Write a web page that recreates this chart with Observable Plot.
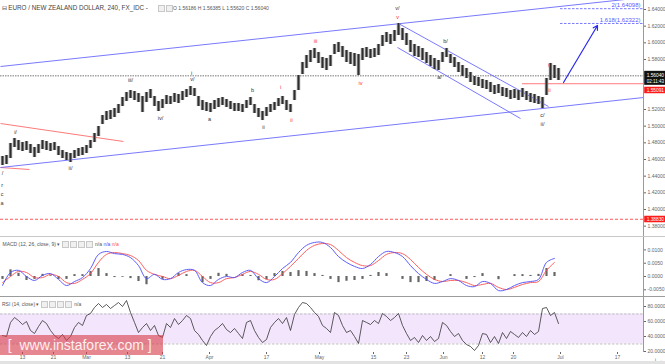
<!DOCTYPE html>
<html><head><meta charset="utf-8">
<script src="https://cdn.jsdelivr.net/npm/d3@7"></script>
<script src="https://cdn.jsdelivr.net/npm/@observablehq/plot@0.6"></script>
<style>
body{margin:0;background:#fff;}
#wrap{position:relative;width:665px;height:364px;overflow:hidden;font-family:"Liberation Sans",Arial,sans-serif;background:#fff;}
.pane{position:absolute;left:0;}
.lbl{position:absolute;white-space:nowrap;color:#444;}
.ic{display:inline-block;width:5px;height:5px;border:0.5px solid #c8c8c8;background:#f0f0f0;margin-right:1px;vertical-align:middle;}
.sep{position:absolute;left:0;width:665px;}
</style></head><body><div id="wrap"></div>
<script>
// ---------- DATA ----------
const priceHigh = [1.4636,1.4648,1.4792,1.4852,1.4828,1.4804,1.4816,1.4780,1.4744,1.4780,1.4828,1.4816,1.4792,1.4804,1.4756,1.4708,1.4684,1.4672,1.4708,1.4732,1.4744,1.4768,1.4828,1.4912,1.4996,1.5128,1.5176,1.5188,1.5212,1.5260,1.5344,1.5404,1.5428,1.5416,1.5392,1.5356,1.5404,1.5440,1.5356,1.5296,1.5320,1.5368,1.5356,1.5392,1.5380,1.5416,1.5440,1.5476,1.5452,1.5356,1.5308,1.5284,1.5272,1.5308,1.5332,1.5344,1.5320,1.5296,1.5272,1.5272,1.5260,1.5308,1.5344,1.5260,1.5212,1.5176,1.5224,1.5260,1.5284,1.5332,1.5356,1.5308,1.5260,1.5428,1.5608,1.5764,1.5848,1.5908,1.5932,1.5884,1.5824,1.5812,1.5848,1.5980,1.6004,1.5956,1.5908,1.5884,1.5872,1.5860,1.5932,1.5944,1.5920,1.5932,1.5980,1.6088,1.6124,1.6100,1.6148,1.6232,1.6172,1.6112,1.6028,1.5980,1.5956,1.5932,1.5884,1.5848,1.5812,1.5788,1.5884,1.5932,1.5860,1.5824,1.5764,1.5728,1.5692,1.5644,1.5596,1.5584,1.5560,1.5548,1.5524,1.5488,1.5500,1.5464,1.5452,1.5428,1.5440,1.5428,1.5452,1.5416,1.5392,1.5380,1.5356,1.5344,1.5572,1.5752,1.5728,1.5692];
const priceLow = [1.4528,1.4540,1.4612,1.4744,1.4708,1.4696,1.4708,1.4672,1.4624,1.4672,1.4720,1.4708,1.4696,1.4708,1.4648,1.4612,1.4588,1.4564,1.4612,1.4636,1.4648,1.4672,1.4732,1.4804,1.4876,1.5020,1.5068,1.5080,1.5104,1.5152,1.5236,1.5296,1.5332,1.5308,1.5284,1.5164,1.5284,1.5332,1.5236,1.5176,1.5212,1.5260,1.5260,1.5284,1.5272,1.5308,1.5344,1.5368,1.5356,1.5236,1.5188,1.5176,1.5164,1.5200,1.5224,1.5248,1.5224,1.5200,1.5176,1.5176,1.5164,1.5212,1.5248,1.5152,1.5104,1.5068,1.5116,1.5164,1.5188,1.5236,1.5260,1.5188,1.5164,1.5308,1.5428,1.5620,1.5692,1.5764,1.5812,1.5752,1.5692,1.5668,1.5716,1.5860,1.5884,1.5824,1.5764,1.5740,1.5716,1.5608,1.5788,1.5824,1.5812,1.5824,1.5848,1.5956,1.6004,1.5980,1.6016,1.6088,1.6028,1.5968,1.5884,1.5836,1.5824,1.5788,1.5752,1.5716,1.5680,1.5668,1.5764,1.5824,1.5752,1.5704,1.5644,1.5596,1.5572,1.5524,1.5488,1.5476,1.5452,1.5440,1.5404,1.5380,1.5392,1.5356,1.5344,1.5320,1.5332,1.5308,1.5344,1.5308,1.5284,1.5272,1.5260,1.5212,1.5368,1.5548,1.5572,1.5548];

const macdLine = [-0.0034,0.0015,0.0023,0,-0.0015,0.0004,0.0011,-0.0011,-0.0034,-0.0019,-0.0004,0.003,0.0083,0.0094,0.0086,0.0083,0.0071,0.0041,-0.0008,0.0008,-0.0011,-0.0008,0.0015,0.0026,0.0023,-0.0023,-0.0034,-0.0011,0,-0.0004,0.0015,0.0023,-0.0008,-0.0023,0,0.003,0.0053,0.009,0.0117,0.0128,0.0128,0.0109,0.0075,0.0053,0.0038,0.003,0.0045,0.0075,0.0094,0.009,0.0075,0.0041,0.0011,-0.0011,-0.0026,-0.0019,-0.0008,-0.0015,-0.0034,-0.0038,-0.0019,-0.0026,-0.0053,-0.0049,-0.0034,-0.0023,-0.0019,-0.0011,0.0053,0.0068];
const signalLine = [-0.0023,0,0.0019,0.0015,-0.0004,-0.0004,0.0008,0,-0.0023,-0.0026,-0.0011,0.0011,0.0053,0.0083,0.009,0.0086,0.0079,0.006,0.0023,0.0008,0,-0.0008,0.0004,0.0019,0.0023,0,-0.0023,-0.0023,-0.0008,-0.0004,0.0008,0.0019,0.0008,-0.0011,-0.0011,0.0011,0.0038,0.0068,0.0098,0.0117,0.0124,0.012,0.0098,0.0071,0.0053,0.0041,0.0041,0.006,0.0083,0.009,0.0086,0.0064,0.0034,0.0008,-0.0011,-0.0019,-0.0015,-0.0015,-0.0023,-0.0034,-0.003,-0.0026,-0.0041,-0.0049,-0.0041,-0.003,-0.0023,-0.0019,0.0023,0.0053];
const macdHist = [-0.0011,0.0025,0.0012,-0.0015,-0.0011,0.0008,0.0003,-0.0011,-0.0011,0.0007,0.0007,0.0019,0.003,0.0011,-0.0004,-0.0003,-0.0008,-0.0019,-0.0031,0,-0.0011,0,0.0011,0.0007,0,-0.0023,-0.0011,0.0012,0.0008,0,0.0007,0.0004,-0.0016,-0.0012,0.0011,0.0019,0.0015,0.0022,0.0019,0.0011,0.0004,-0.0011,-0.0023,-0.0018,-0.0015,-0.0011,0.0004,0.0015,0.0011,0,-0.0011,-0.0023,-0.0023,-0.0019,-0.0015,0,0.0007,0,-0.0011,-0.0004,0.0011,0,-0.0012,0,0.0007,0.0007,0.0004,0.0008,0.003,0.0015];

const rsiValues = [41.3,40,58.7,65.3,61.3,56,60,48,44,53.3,61.3,57.3,48,41.3,37.3,42.7,34.7,40,52,58.7,54.7,68,70.7,78.7,84,78.7,82.7,77.3,81.3,85.3,80,88,72,58.7,45.3,52,57.3,48,54.7,41.3,38.7,57.3,52,64,56,61.3,68,64,48,42.7,34.7,28,40,48,52,57.3,49.3,45.3,50.7,44,37.3,58.7,61.3,48,38.7,32,36,52,58.7,64,57.3,65.3,48,69.3,78.7,85.3,84,78.7,72,66.7,54.7,50.7,45.3,72,68,54.7,45.3,48,40,30.7,61.3,58.7,56,61.3,57.3,70.7,66.7,61.3,65.3,70.7,54.7,44,34.7,38.7,32,41.3,34.7,40,33.3,37.3,58.7,54.7,46.7,40,44,34.7,29.3,26.7,21.3,28,44,42.7,32,40,30.7,45.3,37.3,46.7,42.7,38.7,45.3,40,48,42.7,46.7,77.3,78.7,68,72,57.3];

// 1.54000 and 1.56000 are covered by the price boxes in the reference, so they are not listed
const priceTicks = [1.38,1.40,1.42,1.44,1.46,1.48,1.50,1.52,1.58,1.60,1.62,1.64];
const macdTicks = [0.01,0.005,0,-0.005];
const rsiTicks = [20,40,60,80];
const dateTickPos = [5,12.75,21,31.25,40,51.75,66,79.25,92.75,101,110.25,120,127.75,139.5,153.75];
const dateTickLabels = ["13","21","Mar","13","21","Apr","17","May","15","23","Jun","12","20","Jul","17"];

const lastClose = 1.56040;
const redLevel = 1.55091;
const lowLevel = 1.38830;
const fibLevels = [{v:1.64098, t:"2(1.64098)"}, {v:1.62322, t:"1.618(1.62322)"}];

const blueLines = [
  {x1:-0.5, y1:1.5716, x2:160.25, y2:1.6544},
  {x1:-0.5, y1:1.4504, x2:160.25, y2:1.5344},
  {x1:99, y1:1.6232, x2:136.5, y2:1.5236},
  {x1:98.75, y1:1.5944, x2:129.5, y2:1.5092}
];
const redLines = [
  {x1:-0.5, y1:1.5032, x2:30.25, y2:1.4816},
  {x1:-0.5, y1:1.4504, x2:6.75, y2:1.4480}
];
const arrowLine = [{x1:140.25, y1:1.5524, x2:148.75, y2:1.6208}];

const waveBlack = [
  {i:3.25,p:1.4924,t:"i/"},{i:17,p:1.4492,t:"ii/"},{i:32,p:1.5548,t:"iii/"},{i:39.5,p:1.5092,t:"iv/"},
  {i:47.25,p:1.5640,t:"i"},{i:47.5,p:1.5560,t:"v/"},{i:51.75,p:1.5080,t:"a"},{i:62.5,p:1.5428,t:"b"},
  {i:65.25,p:1.4984,t:"ii"},{i:98.75,p:1.6412,t:"v/"},{i:109.25,p:1.5584,t:"a/"},{i:110.75,p:1.6016,t:"b/"},
  {i:135,p:1.5128,t:"c/"},{i:135,p:1.5020,t:"ii/"},
  {i:0,p:1.4440,t:"/"},{i:-0.1,p:1.4288,t:"r"},{i:-0.1,p:1.4184,t:"c"},{i:-0.1,p:1.4072,t:"a"}
];
const waveRed = [
  {i:69.5,p:1.5464,t:"i"},{i:72.25,p:1.5068,t:"ii"},{i:78.25,p:1.6016,t:"iii"},{i:89.5,p:1.5512,t:"iv"},
  {i:98.75,p:1.6304,t:"v"},{i:136.5,p:1.5728,t:"i"},{i:136.75,p:1.5428,t:"ii"}
];

// ---------- BUILD ----------
const wrap = document.getElementById("wrap");
const FONT = "Liberation Sans, Arial, sans-serif";
const xDomain = [-0.5, 160.25];
const axisX = 160.25;
const bars = priceHigh.map((h, i) => ({i, h, l: priceLow[i]}));
const macdData = macdLine.map((m, k) => ({i: k * 2, m, s: signalLine[k], h: macdHist[k]}));
const rsiData = rsiValues.map((v, i) => ({i, v}));
const pxP = 0.0012; // price per pixel in main pane

function place(svg, top) {
  const d = document.createElement("div");
  d.className = "pane"; d.style.top = top + "px";
  d.appendChild(svg); wrap.appendChild(d);
}

const main = Plot.plot({
  width: 665, height: 237, marginLeft: 0, marginRight: 22, marginTop: 0, marginBottom: 0,
  x: {domain: xDomain, axis: null},
  y: {domain: [1.3664, 1.6508], axis: null},
  style: {fontFamily: FONT, background: "transparent", overflow: "visible"},
  marks: [
    Plot.ruleY([lowLevel], {stroke: "#ff4444", strokeDasharray: "3,2", strokeWidth: 0.9}),
    Plot.ruleY([lastClose], {stroke: "#555", strokeDasharray: "1.5,1", strokeWidth: 0.8}),
    Plot.ruleY([redLevel], {x1: 130, x2: axisX, stroke: "#ff6a6a", strokeWidth: 0.9}),
    Plot.link(redLines, {x1: "x1", y1: "y1", x2: "x2", y2: "y2", stroke: "#ff6b6b", strokeWidth: 0.9, clip: true}),
    Plot.link(blueLines, {x1: "x1", y1: "y1", x2: "x2", y2: "y2", stroke: "#6a6aff", strokeWidth: 0.9, clip: true}),
    Plot.ruleX(bars, {x: "i", y1: "l", y2: "h", stroke: "#6e6e6e", strokeWidth: 3.3}),
    Plot.ruleX(bars, {x: "i", y1: "l", y2: "h", stroke: "#2e2e2e", strokeWidth: 1}),
    Plot.ruleY(fibLevels, {y: "v", x1: 139.5, x2: axisX, stroke: "#6a6aff", strokeDasharray: "2.5,1.5", strokeWidth: 0.9}),
    Plot.text(fibLevels, {y: "v", x: 159.5, text: "t", textAnchor: "end", dy: -3.5, fill: "#5a5aff", fontSize: 6}),
    Plot.arrow(arrowLine, {x1: "x1", y1: "y1", x2: "x2", y2: "y2", stroke: "#2a2aee", strokeWidth: 1.2, headLength: 6}),
    Plot.text(waveBlack, {x: "i", y: "p", text: "t", fill: "#333", fontSize: 5.5}),
    Plot.text(waveRed, {x: "i", y: "p", text: "t", fill: "#ff2a2a", fontSize: 5.5}),
    Plot.ruleX([axisX], {stroke: "#9a9a9a", strokeWidth: 1}),
    Plot.axisY(priceTicks, {anchor: "right", tickSize: 2, tickPadding: 2, tickFormat: d => d.toFixed(5), fontSize: 5, color: "#666"}),
    // price labels on the axis
    Plot.rect([lastClose], {x1: axisX + 0.3, x2: 166, y1: d => d + 4.5 * pxP, y2: d => d - 9.5 * pxP, fill: "#111"}),
    Plot.text([lastClose], {x: 163.2, y: d => d, text: d => d.toFixed(5), fill: "white", fontSize: 4.8}),
    Plot.text([lastClose], {x: 163.2, y: d => d, dy: 6, text: () => "02:11:43", fill: "white", fontSize: 4.5}),
    Plot.rect([redLevel], {x1: axisX + 0.3, x2: 166, y1: d => d - 3.5 * pxP, y2: d => d - 10 * pxP, fill: "#ff1a1a"}),
    Plot.text([redLevel], {x: 163.2, y: d => d, dy: 6.8, text: d => d.toFixed(5), fill: "white", fontSize: 4.8}),
    Plot.rect([lowLevel], {x1: axisX + 0.3, x2: 166, y1: d => d + 3 * pxP, y2: d => d - 3.5 * pxP, fill: "#ff1a1a"}),
    Plot.text([lowLevel], {x: 163.2, y: d => d, text: d => d.toFixed(5), fill: "white", fontSize: 4.8})
  ]
});
place(main, 0);

const macd = Plot.plot({
  width: 665, height: 60, marginLeft: 0, marginRight: 22, marginTop: 0, marginBottom: 0,
  x: {domain: xDomain, axis: null},
  y: {domain: [-0.0079, 0.01466], axis: null},
  style: {fontFamily: FONT, background: "transparent"},
  marks: [
    Plot.ruleX(macdData, {x: "i", y1: 0, y2: "h", stroke: "#666", strokeWidth: 2.2}),
    Plot.line(macdData, {x: "i", y: "s", stroke: "#ff4b4b", strokeWidth: 0.9, curve: "catmull-rom"}),
    Plot.line(macdData, {x: "i", y: "m", stroke: "#4b4bff", strokeWidth: 0.9, curve: "catmull-rom"}),
    Plot.ruleX([axisX], {stroke: "#9a9a9a", strokeWidth: 1}),
    Plot.axisY(macdTicks, {anchor: "right", tickSize: 2, tickPadding: 2, tickFormat: d => d.toFixed(4), fontSize: 5, color: "#666"})
  ]
});
place(macd, 237);

const rsi = Plot.plot({
  width: 665, height: 67, marginLeft: 0, marginRight: 22, marginTop: 0, marginBottom: 12,
  x: {domain: xDomain, axis: null},
  y: {domain: [18.67, 92], axis: null},
  style: {fontFamily: FONT, background: "transparent"},
  marks: [
    Plot.rect([{a: 30, b: 70}], {x1: xDomain[0], x2: axisX, y1: "a", y2: "b", fill: "#f3e6fc"}),
    Plot.ruleY([30, 70], {stroke: "#aaa", strokeDasharray: "2.5,1.5", strokeWidth: 0.7}),
    Plot.line(rsiData, {x: "i", y: "v", stroke: "#333", strokeWidth: 0.8}),
    Plot.ruleX([axisX], {stroke: "#9a9a9a", strokeWidth: 1}),
    Plot.axisY(rsiTicks, {anchor: "right", tickSize: 2, tickPadding: 2, tickFormat: d => d.toFixed(4), fontSize: 5, color: "#666"}),
    Plot.axisX(dateTickPos, {anchor: "bottom", tickSize: 2, tickPadding: 1, fontSize: 5, color: "#666",
      tickFormat: d => dateTickLabels[dateTickPos.indexOf(d)]})
  ]
});
place(rsi, 297);

// separators & strips
function sep(top, h, color) {
  const d = document.createElement("div");
  d.className = "sep"; d.style.top = top + "px"; d.style.height = h + "px"; d.style.background = color;
  wrap.appendChild(d);
}
sep(235.5, 1.5, "#c8c8c8");
sep(296, 1, "#9c9c9c");
sep(361, 3, "#e2e2e2");

// titles
function label(html, left, top, size, color) {
  const d = document.createElement("div");
  d.className = "lbl"; d.style.left = left + "px"; d.style.top = top + "px";
  d.style.fontSize = size + "px"; d.style.lineHeight = (size + 1) + "px";
  if (color) d.style.color = color;
  d.innerHTML = html; wrap.appendChild(d);
}
label('<span style="font-size:6px">&#8863;</span> EURO / NEW ZEALAND DOLLAR, 240, FX_IDC -', 1.5, 4, 6.3, "#444");
label('<span class="ic"></span><span class="ic"></span>', 158, 5, 5);
label('O 1.56186 H 1.56385 L 1.55620 C 1.56040', 173, 5, 5, "#555");
label('MACD (12, 26, close, 9) &#9662; <span class="ic"></span><span class="ic"></span><span class="ic"></span><span class="ic"></span> n/a <span style="color:#4b4bff">n/a</span> <span style="color:#ff4b4b">n/a</span>', 2.5, 240.5, 5, "#555");
label('RSI (14, close) &#9662; <span class="ic"></span><span class="ic"></span><span class="ic"></span><span class="ic"></span> n/a', 2, 300.5, 5, "#555");

// watermark
const wm = document.createElement("div");
wm.style.cssText = "position:absolute;left:0;top:335px;width:163px;height:20px;background:rgba(214,62,74,0.62);color:#fdeef0;font-size:14px;line-height:20px;white-space:nowrap;font-family:'Liberation Sans',Arial,sans-serif;";
wm.innerHTML = '&nbsp;&nbsp;[&nbsp; www.instaforex.com ]';
wrap.appendChild(wm);
</script></body></html>
